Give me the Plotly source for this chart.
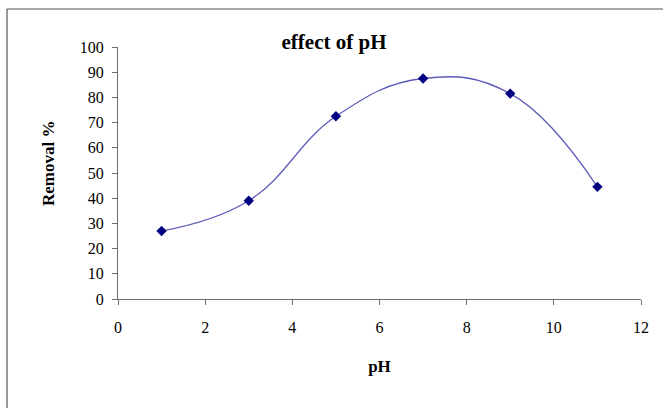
import plotly.graph_objects as go

ph = [1, 3, 5, 7, 9, 11]
removal = [27, 39, 72.5, 87.5, 81.5, 44.5]
x_ticks = [0, 2, 4, 6, 8, 10, 12]
y_ticks = [0, 10, 20, 30, 40, 50, 60, 70, 80, 90, 100]

W, H = 663, 408
L, R, T, B = 118, 22, 47, 109
pw, ph_ = W - L - R, H - T - B

fig = go.Figure()
fig.add_trace(go.Scatter(
    x=ph, y=removal, mode="lines",
    line=dict(color="#5c5cb8", width=1.3, shape="spline", smoothing=1.2),
    hoverinfo="skip", showlegend=False))
fig.add_trace(go.Scatter(
    x=ph, y=removal, mode="markers",
    marker=dict(symbol="diamond", size=8, color="#000080"),
    showlegend=False))

font = "Liberation Serif, Times New Roman, serif"
axis_common = dict(showgrid=False, zeroline=False, showline=True, linecolor="#6e6e6e",
                   linewidth=1.3, ticks="outside", ticklen=5, tickcolor="#6e6e6e",
                   tickfont=dict(family=font, size=16, color="black"))

fig.update_layout(
    width=W, height=H,
    margin=dict(l=L, r=R, t=T, b=B),
    paper_bgcolor="white", plot_bgcolor="white",
    font=dict(family=font, color="black"),
    title=dict(text="<b>effect of pH</b>", x=334 / W, xanchor="center",
               y=1 - 42 / H, yanchor="middle", font=dict(family=font, size=21)),
    xaxis=dict(range=[0, 12], tickvals=x_ticks, ticklabelstandoff=9,
               title=dict(text="<b>pH</b>", font=dict(family=font, size=17), standoff=24),
               **axis_common),
    yaxis=dict(range=[0, 100], tickvals=y_ticks, ticklabelstandoff=5,
               **axis_common),
)

fig.add_annotation(text="<b>Removal %</b>", xref="paper", yref="paper",
                   x=(48 - L) / pw, y=(H - B - 164) / ph_, textangle=-90,
                   showarrow=False, xanchor="center", yanchor="middle",
                   font=dict(family=font, size=17, color="black"))

# outer chart-area frame (left and top edges visible)
x0 = (7 - L) / pw
y0 = (H - B - 9) / ph_
fig.add_shape(type="line", xref="paper", yref="paper", x0=x0, x1=x0, y0=y0, y1=-1,
              line=dict(color="#555", width=1.2))
fig.add_shape(type="line", xref="paper", yref="paper", x0=x0, x1=2, y0=y0, y1=y0,
              line=dict(color="#555", width=1.2))

fig.write_html("out.html", config={"displayModeBar": False},
               post_script="document.body.style.margin='0';")
